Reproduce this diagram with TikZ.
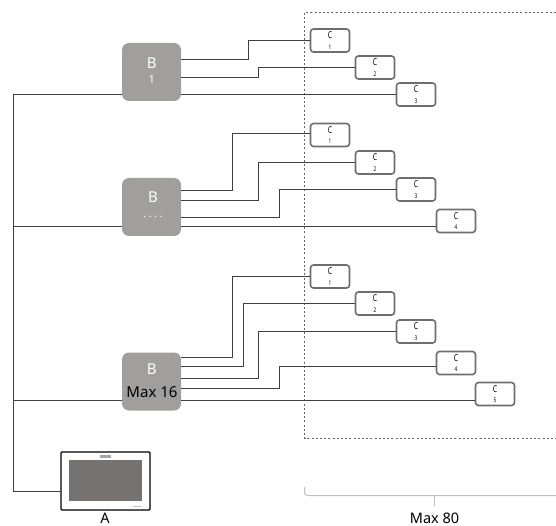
\documentclass[tikz,border=0pt]{standalone}
\usepackage{fontspec}
\setmainfont{Noto Sans}
\newfontfamily\narrowfont[FakeStretch=0.72]{Noto Sans}
\definecolor{boxg}{HTML}{A09F9D}
\definecolor{edgeg}{HTML}{6E6E6E}
\definecolor{wire}{HTML}{404040}
\definecolor{scr}{HTML}{767270}
\tikzset{
  bnode/.style={draw=none,fill=boxg,rounded corners=7pt,minimum width=59pt,minimum height=58pt,inner sep=0pt},
  cnode/.style={draw=edgeg,line width=1.6pt,fill=white,rounded corners=3pt,minimum width=39pt,minimum height=23pt,inner sep=0pt,align=center,text=black},
  wire/.style={draw=wire,line width=1.2pt},
  lab/.style={inner sep=0pt,text=black},
  btext/.style={inner sep=0pt,text=white,font=\fontsize{15}{15}\selectfont},
  bsmall/.style={inner sep=0pt,text=white,font=\fontsize{11}{11}\selectfont}
}
\newcommand{\cc}[1]{{\narrowfont\fontsize{9.5}{8}\selectfont C}\\[-1.5pt]{\narrowfont\fontsize{6.5}{6}\selectfont #1}}
\begin{document}
\begin{tikzpicture}[x=1pt,y=-1pt]
\useasboundingbox (0,0) rectangle (556,526);
% dashed frame
\draw[black!60,line width=0.7pt,dash pattern=on 2pt off 2.2pt] (556,12.5) -- (304.5,12.5) -- (304.5,438.5) -- (556,438.5);
% nodes
\node[bnode] (b1) at (151.5,72) {};
\node[bnode] (b2) at (151.5,207) {};
\node[bnode] (b3) at (151.5,381.5) {};
\node[cnode] (c11) at (330,40.5) {\cc{1}};
\node[cnode] (c12) at (375,67.5) {\cc{2}};
\node[cnode] (c13) at (416,94.5) {\cc{3}};
\node[cnode] (c21) at (330,135) {\cc{1}};
\node[cnode] (c22) at (375,162.5) {\cc{2}};
\node[cnode] (c23) at (416,189.5) {\cc{3}};
\node[cnode] (c24) at (456,221) {\cc{4}};
\node[cnode] (c31) at (330,276.5) {\cc{1}};
\node[cnode] (c32) at (375,303.5) {\cc{2}};
\node[cnode] (c33) at (416,331.5) {\cc{3}};
\node[cnode] (c34) at (456,363) {\cc{4}};
\node[cnode] (c35) at (495,394) {\cc{5}};
\node[draw=black,line width=1.4pt,fill=white,rounded corners=1pt,minimum width=89pt,minimum height=58pt,inner sep=0pt] (a) at (105.5,481) {};
\node[fill=scr,minimum width=73pt,minimum height=41pt,inner sep=0pt] (scr) at (105.5,480.5) {};
\node[fill=black!35,minimum width=11pt,minimum height=2.5pt,inner sep=0pt] (logo) at (105.5,456.5) {};
\node[draw=black!40,line width=0.4pt,dotted,circle,minimum size=4pt,inner sep=0pt] (dial) at (105.5,505) {};
\node[fill=black!25,minimum width=8pt,minimum height=1pt,inner sep=0pt] (tag) at (137,506) {};
% wires
\coordinate (bt) at (13.5,94.5);
\coordinate (ba) at (13.5,491.5);
\draw[wire] (b1.west|-bt) -- (bt) -- (ba) -- (a.west|-ba);
\coordinate (j2) at (13.5,226.5);
\coordinate (j3) at (13.5,400.5);
\draw[wire] (j2) -- (b2.west|-j2);
\draw[wire] (j3) -- (b3.west|-j3);
\draw[wire] (b1.east|-0,59.5) -- (248.5,59.5) |- (c11.west);
\draw[wire] (b1.east|-0,77.5) -- (258.5,77.5) |- (c12.west);
\draw[wire] (b1.east|-0,94.5) -- (c13.west);
\draw[wire] (b2.east|-0,190.5) -- (232.5,190.5) |- (c21.west|-0,133.5);
\draw[wire] (b2.east|-0,200.5) -- (258.5,200.5) |- (c22.west);
\draw[wire] (b2.east|-0,217.5) -- (279.5,217.5) |- (c23.west);
\draw[wire] (b2.east|-0,226.5) -- (c24.west|-0,226.5);
\draw[wire] (b3.east|-0,357.5) -- (232.5,357.5) |- (c31.west);
\draw[wire] (b3.east|-0,366.5) -- (243.5,366.5) |- (c32.west);
\draw[wire] (b3.east|-0,378.5) -- (258.5,378.5) |- (c33.west);
\draw[wire] (b3.east|-0,388.5) -- (279.5,388.5) |- (c34.west|-0,366.5);
\draw[wire] (b3.east|-0,400.5) -- (c35.west|-0,400.5);
% B labels
\node[btext] (t1) at (151.7,63.3) {B};
\node[bsmall] (t1b) at (151.7,80) {1};
\node[btext] (t2) at (153,197.5) {B};
\node[bsmall] (t2b) at (153,216.5) {.\kern2.5pt.\kern2.5pt.\kern2.5pt.};
\node[btext] (t3) at (151.7,369.3) {B};
\node[lab,font=\fontsize{15}{15}\selectfont] (t3b) at (152,391.7) {Max 16};
% A label
\node[lab,font=\fontsize{14.5}{14.5}\selectfont] (la) at (105,518) {A};
% brace
\draw[black!25,line width=1pt,rounded corners=3pt] (304.5,487) -- (304.5,495.5) -- (556,495.5);
\draw[black!25,line width=1pt] (434.5,495.5) -- (434.5,505.5);
\node[lab,font=\fontsize{14.5}{14.5}\selectfont] (mx) at (434.5,518) {Max 80};
\end{tikzpicture}
\end{document}
